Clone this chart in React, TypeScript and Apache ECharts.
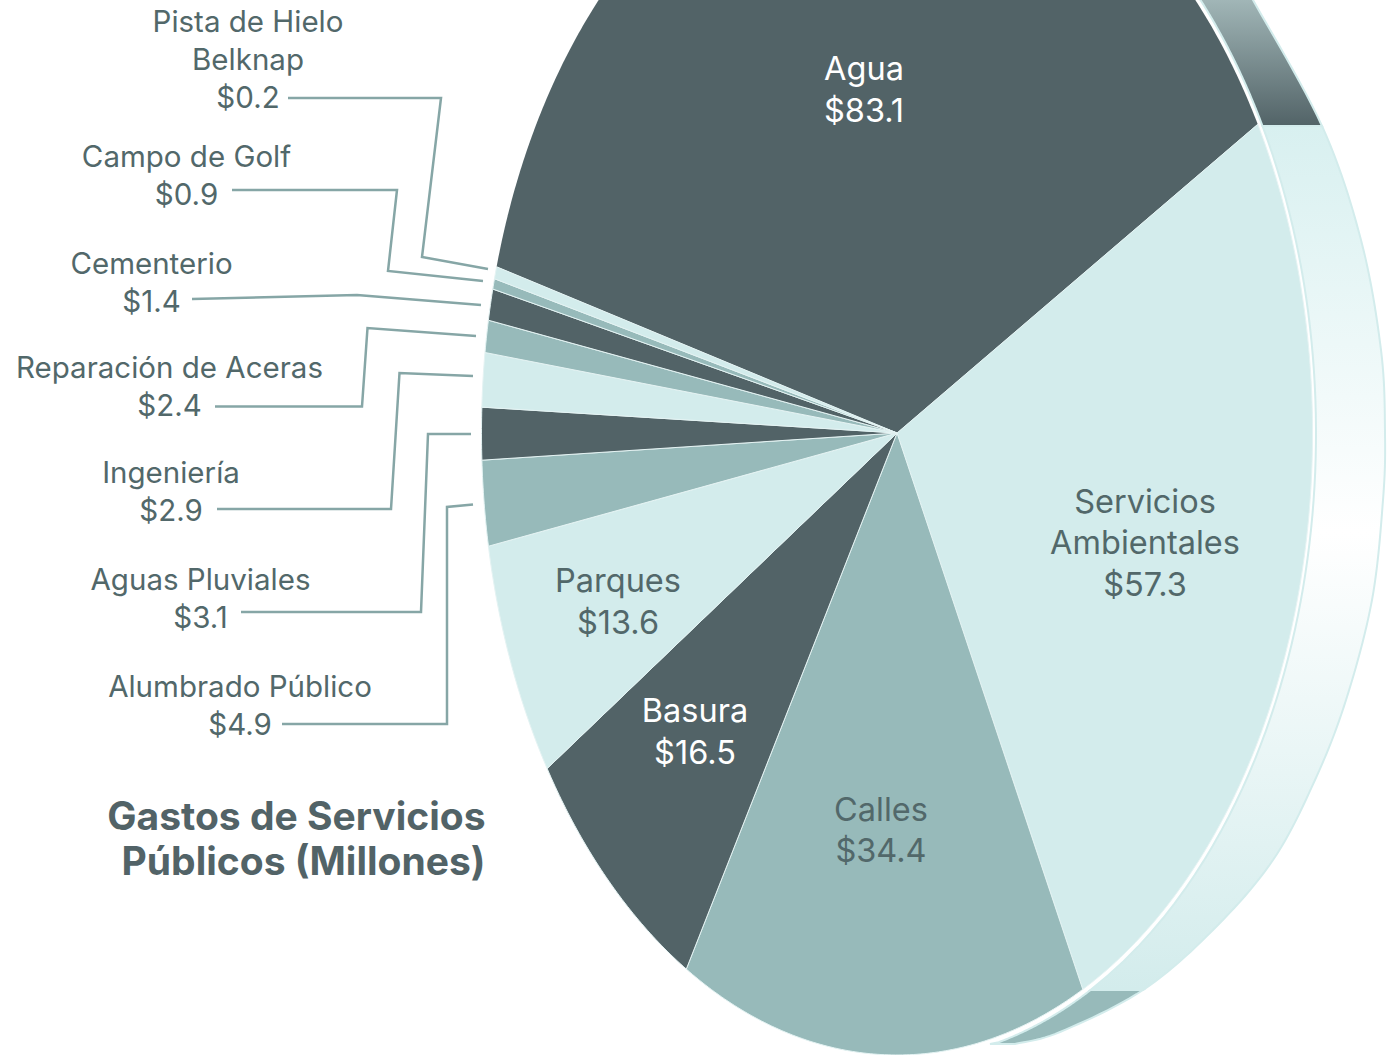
import React, { useEffect, useRef } from "react";
import * as echarts from "echarts";

const categories = ["Agua", "Servicios Ambientales", "Calles", "Basura", "Parques", "Alumbrado Público", "Aguas Pluviales", "Ingeniería", "Reparación de Aceras", "Cementerio", "Campo de Golf", "Pista de Hielo Belknap"];
const printedValues = ["$83.1", "$57.3", "$34.4", "$16.5", "$13.6", "$4.9", "$3.1", "$2.9", "$2.4", "$1.4", "$0.9", "$0.2"];
// Drawn size of each slice, as measured on the picture
const sliceValues = [82.7, 57.2, 35.0, 16.5, 13.6, 4.9, 3.0, 3.1, 1.85, 1.8, 0.6, 0.7];

const DARK = "#526367";
const TEAL = "#97BABA";
const LIGHT = "#D3ECEC";
const TEXT = "#52686A";
const LEADER = "#86A6A6";
const FONT = "Inter";
const sliceColors = [DARK, LIGHT, TEAL, DARK, LIGHT, TEAL, DARK, LIGHT, TEAL, DARK, TEAL, LIGHT];
const darkLabels = [true, false, false, true, false];

const CX = 897, CY = 433, RX = 415.5, RY = 622, START = 285.5;
const total = sliceValues.reduce((a, b) => a + b, 0);

const centerLabels = [
  { lines: ["Agua", printedValues[0]], x: 864, y: 89.5 },
  { lines: ["Servicios", "Ambientales", printedValues[1]], x: 1145, y: 542.5 },
  { lines: ["Calles", printedValues[2]], x: 881, y: 830 },
  { lines: ["Basura", printedValues[3]], x: 695, y: 731.5 },
  { lines: ["Parques", printedValues[4]], x: 618, y: 601.5 },
];
const sideLabels = [
  { lines: ["Pista de Hielo", "Belknap", printedValues[11]], x: 248, y: 59 },
  { lines: ["Campo de Golf", printedValues[10]], x: 186.5, y: 175 },
  { lines: ["Cementerio", printedValues[9]], x: 151.5, y: 282 },
  { lines: ["Reparación de Aceras", printedValues[8]], x: 169.5, y: 386 },
  { lines: ["Ingeniería", printedValues[7]], x: 171, y: 491 },
  { lines: ["Aguas Pluviales", printedValues[6]], x: 200.5, y: 598 },
  { lines: ["Alumbrado Público", printedValues[5]], x: 240, y: 705 },
];
const leaders = [
  [[288, 98], [441, 98], [422, 257], [488, 269]],
  [[232, 190], [397, 190], [388, 271], [483, 281]],
  [[192, 299], [357, 295], [481, 305]],
  [[215, 406.5], [362, 406.5], [367.5, 328], [476, 336]],
  [[217, 509], [391, 509], [399.5, 373], [473, 376]],
  [[241, 612], [421, 612], [428, 434], [471, 434]],
  [[282, 724], [447, 724], [447, 507], [473, 504.5]],
];
const bandOuter = [[1242, -20], [1253, 0], [1322, 126], [1361, 240], [1381, 350], [1385, 433], [1383, 500], [1372, 600], [1346, 700], [1315, 780], [1273, 860], [1213, 930], [1143, 990], [1060, 1032], [1015, 1044]];
const BAND_RX = 419, BAND_RY = 628;

function catmull(pts: number[][], steps = 12) {
  const out: number[][] = [];
  for (let i = 0; i < pts.length - 1; i++) {
    const p0 = pts[Math.max(i - 1, 0)], p1 = pts[i], p2 = pts[i + 1], p3 = pts[Math.min(i + 2, pts.length - 1)];
    for (let s = 0; s < steps; s++) {
      const t = s / steps;
      const f = (k: number) => 0.5 * (2 * p1[k] + (p2[k] - p0[k]) * t + (2 * p0[k] - 5 * p1[k] + 4 * p2[k] - p3[k]) * t * t + (3 * p1[k] - p0[k] - 3 * p2[k] + p3[k]) * t * t * t);
      out.push([f(0), f(1)]);
    }
  }
  out.push(pts[pts.length - 1]);
  return out;
}
function innerX(y: number) {
  const d = (y - CY) / BAND_RY;
  return CX + BAND_RX * Math.sqrt(Math.max(0, 1 - d * d));
}
function outerX(samples: number[][], y: number) {
  for (let i = 0; i < samples.length - 1; i++) {
    const a = samples[i], b = samples[i + 1];
    if (a[1] <= y && b[1] >= y && b[1] !== a[1]) return a[0] + ((b[0] - a[0]) * (y - a[1])) / (b[1] - a[1]);
  }
  return samples[samples.length - 1][0];
}
function bandPiece(samples: number[][], y0: number, y1: number, tip?: number[]) {
  const pts: number[][] = [[outerX(samples, y0), y0]];
  samples.forEach((p) => { if (p[1] > y0 && p[1] < y1) pts.push(p); });
  pts.push([outerX(samples, y1), y1]);
  if (tip) pts.push(tip);
  const stepY = (y1 - y0) / 60;
  for (let i = 60; i >= 0; i--) {
    const y = y0 + stepY * i;
    if (tip && y > tip[1] - 1) continue;
    pts.push([innerX(y), y]);
  }
  return pts;
}

export default function App() {
  const ref = useRef<HTMLDivElement>(null);
  useEffect(() => {
    const chart = echarts.init(ref.current!, undefined, { renderer: "svg" });
    const samples = catmull(bandOuter);
    const band = [
      {
        type: "polygon", silent: true, z: 1,
        shape: { points: bandPiece(samples, -2, 126) },
        style: { fill: new echarts.graphic.LinearGradient(0, 0, 0, 1, [{ offset: 0, color: "#A2B7B8" }, { offset: 1, color: DARK }]), stroke: LIGHT, lineWidth: 2 },
      },
      {
        type: "polygon", silent: true, z: 1,
        shape: { points: bandPiece(samples, 126, 990) },
        style: { fill: new echarts.graphic.LinearGradient(0, 0, 0, 1, [{ offset: 0, color: "#D8F0F0" }, { offset: 0.47, color: "#FFFFFF" }, { offset: 1, color: LIGHT }]), stroke: LIGHT, lineWidth: 2 },
      },
      {
        type: "polygon", silent: true, z: 1,
        shape: { points: bandPiece(samples, 990, 1044, [990, 1044]) },
        style: { fill: TEAL, stroke: LIGHT, lineWidth: 2 },
      },
    ];
    const lines = leaders.map((pts) => ({
      type: "polyline", silent: true, z: 3,
      shape: { points: pts },
      style: { fill: "none", stroke: LEADER, lineWidth: 2.5 },
    }));
    const blockText = (l: { lines: string[]; x: number; y: number }, fill: string, size: number, lh: number) => ({
      type: "text", silent: true, z: 5, x: l.x, y: l.y,
      style: { text: l.lines.join("\n"), fill, fontFamily: FONT, fontSize: size, lineHeight: lh, align: "center", verticalAlign: "middle" },
    });
    const texts = [
      ...centerLabels.map((l, i) => blockText(l, darkLabels[i] ? "#FFFFFF" : TEXT, 32.5, 41.5)),
      ...sideLabels.map((l) => blockText(l, TEXT, 29.5, 38)),
      {
        type: "text", silent: true, z: 5, x: 485.5, y: 837.5,
        style: { text: "Gastos de Servicios\nPúblicos (Millones)", fill: DARK, fontFamily: FONT, fontSize: 39, fontWeight: 700, lineHeight: 45, align: "right", verticalAlign: "middle" },
      },
    ];
    chart.setOption({
      animation: false,
      backgroundColor: "#FFFFFF",
      graphic: { elements: [...band, ...lines, ...texts] },
      series: [{
        type: "custom",
        coordinateSystem: "none",
        silent: true,
        z: 2,
        clip: false,
        data: categories.map((name, i) => ({ name, value: [sliceValues[i]] })),
        renderItem: (params: any, api: any) => {
          const i = params.dataIndex;
          const before = sliceValues.slice(0, i).reduce((a, b) => a + b, 0);
          const a0 = START + (before / total) * 360;
          const sweep = (api.value(0) / total) * 360;
          const n = Math.max(4, Math.ceil(sweep * 2));
          const pts: number[][] = [[CX, CY]];
          for (let k = 0; k <= n; k++) {
            const a = ((a0 + (sweep * k) / n) * Math.PI) / 180;
            pts.push([CX + RX * Math.sin(a), CY - RY * Math.cos(a)]);
          }
          return {
            type: "polygon",
            shape: { points: pts },
            style: { fill: sliceColors[i], stroke: i === 0 ? "none" : "#E4F3F3", lineWidth: 1 },
          };
        },
      }],
    });
    return () => chart.dispose();
  }, []);
  return <div ref={ref} style={{ position: "absolute", left: 0, top: 0, width: 1387, height: 1055 }} />;
}
